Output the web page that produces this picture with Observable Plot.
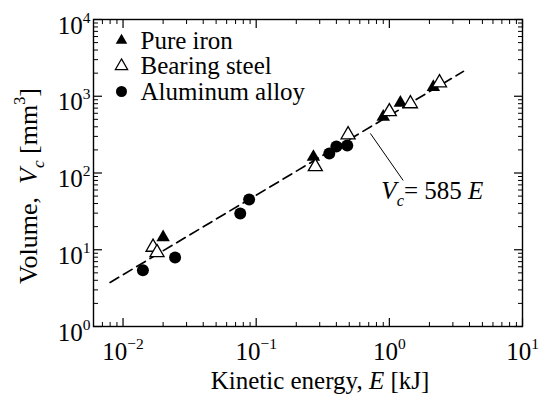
<!DOCTYPE html>
<html><head><meta charset="utf-8">
<script src="https://cdn.jsdelivr.net/npm/d3@7"></script>
<script src="https://cdn.jsdelivr.net/npm/@observablehq/plot@0.6"></script>
<style>
body{margin:0;background:#fff}
#chart svg{display:block}
</style>
</head><body><div id="chart"></div>
<script>
// ---- data ----
const pureIronE = [0.020, 0.269, 0.90, 1.21, 2.14];
const pureIronV = [14.5, 162, 540, 820, 1320];
const steelE = [0.0168, 0.0180, 0.278, 0.49, 1.00, 1.44, 2.38];
const steelV = [10.8, 9.2, 121, 315, 630, 800, 1500];
const alE = [0.0141, 0.0246, 0.0759, 0.0885, 0.354, 0.40, 0.483];
const alV = [5.4, 7.9, 29.6, 45, 180, 221, 228];
const fitE = [0.008, 3.6];
const fitV = [3.75, 2110];
const leaderE = [0.72, 1.27];
const leaderV = [328, 80];
const annotE = [0.871];
const annotV = [57.5];
const annotText = ["{i:V}{isub:c}= 585 {i:E}"];
const legendLabels = ["Pure iron", "Bearing steel", "Aluminum alloy"];
const xMajor = [0.01, 0.1, 1, 10];
const yMajor = [1, 10, 100, 1000, 10000];
const xLabel = "Kinetic energy, {i:E} [kJ]";
const yLabel = "Volume,  {i:V}{isub:c} [mm{sup:3}]";

// minor ticks (axis decoration)
function minors(majors, lo, hi) {
  const out = [];
  for (const m of majors) for (let k = 2; k <= 9; k++) { const v = m * k; if (v > lo && v < hi) out.push(v); }
  for (let k = 2; k <= 9; k++) { const v = majors[0] / 10 * k; if (v > lo && v < hi) out.push(v); }
  return out;
}
const xDomain = [0.006, 10], yDomain = [1, 10000];
const xMinor = minors(xMajor, xDomain[0], xDomain[1]);
const yMinor = minors(yMajor, yDomain[0], yDomain[1]);

const pts = (E, V) => E.map((e, i) => ({E: e, V: V[i]}));
const iron = pts(pureIronE, pureIronV);
const steel = pts(steelE, steelV);
const al = pts(alE, alV);
const fit = pts(fitE, fitV);
const leader = [{E1: leaderE[0], V1: leaderV[0], E2: leaderE[1], V2: leaderV[1]}];
const annot = annotE.map((e, i) => ({E: e, V: annotV[i], t: annotText[i]}));

const supFmt = d => `10{sup:${String(Math.round(Math.log10(d))).replace("-", "\u2212")}}`;
const blank = () => "";

const legendSymbols = [
  {symbol: "triangle", fill: "black", stroke: "none", r: 4.3},
  {symbol: "triangle", fill: "white", stroke: "black", r: 4.6},
  {symbol: "circle", fill: "black", stroke: "none", r: 5.5}
];
const legendDy = [21, 46.5, 72];

const chart = Plot.plot({
  width: 544, height: 397,
  marginLeft: 93, marginRight: 22, marginTop: 19, marginBottom: 71,
  style: {fontFamily: "'Liberation Serif', 'Times New Roman', serif", fontSize: "25px", color: "black", background: "white"},
  x: {type: "log", domain: xDomain},
  y: {type: "log", domain: yDomain},
  marks: [
    // axes: ticks inward on all four sides
    Plot.axisX({anchor: "bottom", ticks: xMajor, tickSize: -8, tickFormat: blank, label: null, strokeWidth: 1.2}),
    Plot.axisX({anchor: "bottom", ticks: xMinor, tickSize: -4, tickFormat: blank, label: null, strokeWidth: 1}),
    Plot.axisX({anchor: "top", ticks: xMajor, tickSize: -8, tickFormat: blank, label: null, strokeWidth: 1.2}),
    Plot.axisX({anchor: "top", ticks: xMinor, tickSize: -4, tickFormat: blank, label: null, strokeWidth: 1}),
    Plot.axisY({anchor: "left", ticks: yMajor, tickSize: -9, tickFormat: blank, label: null, strokeWidth: 1.2}),
    Plot.axisY({anchor: "left", ticks: yMinor, tickSize: -5, tickFormat: blank, label: null, strokeWidth: 1}),
    Plot.axisY({anchor: "right", ticks: yMajor, tickSize: -9, tickFormat: blank, label: null, strokeWidth: 1.2}),
    Plot.axisY({anchor: "right", ticks: yMinor, tickSize: -5, tickFormat: blank, label: null, strokeWidth: 1}),
    Plot.axisX({anchor: "bottom", ticks: xMajor, tickSize: 0, tickPadding: 16, tickFormat: supFmt, label: null}),
    Plot.axisY({anchor: "left", ticks: yMajor, tickSize: 0, tickPadding: 3, dy: 6, tickFormat: supFmt, label: null}),
    Plot.frame({stroke: "black", strokeWidth: 1.4}),
    // fit line and annotation
    Plot.line(fit, {x: "E", y: "V", stroke: "black", strokeWidth: 1.7, strokeDasharray: "10,5.5"}),
    Plot.link(leader, {x1: "E1", y1: "V1", x2: "E2", y2: "V2", stroke: "black", strokeWidth: 1}),
    Plot.text(annot, {x: "E", y: "V", text: "t", textAnchor: "start", lineAnchor: "middle", fontSize: 25, fill: "black"}),
    // data
    Plot.dot(iron, {x: "E", y: "V", symbol: "triangle", r: 5, fill: "black", stroke: "none"}),
    Plot.dot(steel, {x: "E", y: "V", symbol: "triangle", r: 5.2, fill: "white", stroke: "black", strokeWidth: 1.3}),
    Plot.dot(al, {x: "E", y: "V", symbol: "circle", r: 6, fill: "black", stroke: "none"}),
    // legend
    ...legendLabels.flatMap((lab, i) => [
      Plot.dot([lab], {frameAnchor: "top-left", dx: 28, dy: legendDy[i], symbol: legendSymbols[i].symbol, r: legendSymbols[i].r, fill: legendSymbols[i].fill, stroke: legendSymbols[i].stroke, strokeWidth: 1.2}),
      Plot.text([lab], {frameAnchor: "top-left", dx: 47, dy: legendDy[i], text: d => d, textAnchor: "start", lineAnchor: "middle", fontSize: 25, fill: "black"})
    ]),
    // axis titles
    Plot.text([xLabel], {frameAnchor: "bottom", dx: 12, dy: 54, text: d => d, textAnchor: "middle", lineAnchor: "middle", fontSize: 25, fill: "black"}),
    Plot.text([yLabel], {frameAnchor: "left", dx: -65, dy: 13, rotate: -90, text: d => d, textAnchor: "middle", lineAnchor: "middle", fontSize: 26, fill: "black"})
  ]
});

document.getElementById("chart").appendChild(chart);

// rich text: italic, subscript, superscript
function richify(svg) {
  const NS = "http://www.w3.org/2000/svg";
  svg.querySelectorAll("text").forEach(t => {
    const s = t.textContent;
    if (!s.includes("{")) return;
    const fs = parseFloat(getComputedStyle(t).fontSize) || 25;
    t.textContent = "";
    let shift = 0;
    const re = /\{(i|sub|isub|sup):([^}]*)\}|([^{]+)/g;
    let m;
    while ((m = re.exec(s))) {
      const kind = m[1], txt = m[2] !== undefined ? m[2] : m[3];
      const ts = document.createElementNS(NS, "tspan");
      let target = 0;
      if (kind === "i" || kind === "isub") ts.setAttribute("font-style", "italic");
      if (kind === "sub" || kind === "isub") { target = 0.26 * fs; ts.setAttribute("font-size", (0.66 * fs).toFixed(1)); }
      if (kind === "sup") { target = -0.44 * fs; ts.setAttribute("font-size", (0.62 * fs).toFixed(1)); }
      if (target !== shift) { ts.setAttribute("dy", (target - shift).toFixed(2)); shift = target; }
      ts.textContent = txt;
      t.appendChild(ts);
    }
  });
}
richify(chart);
</script>
</body></html>
